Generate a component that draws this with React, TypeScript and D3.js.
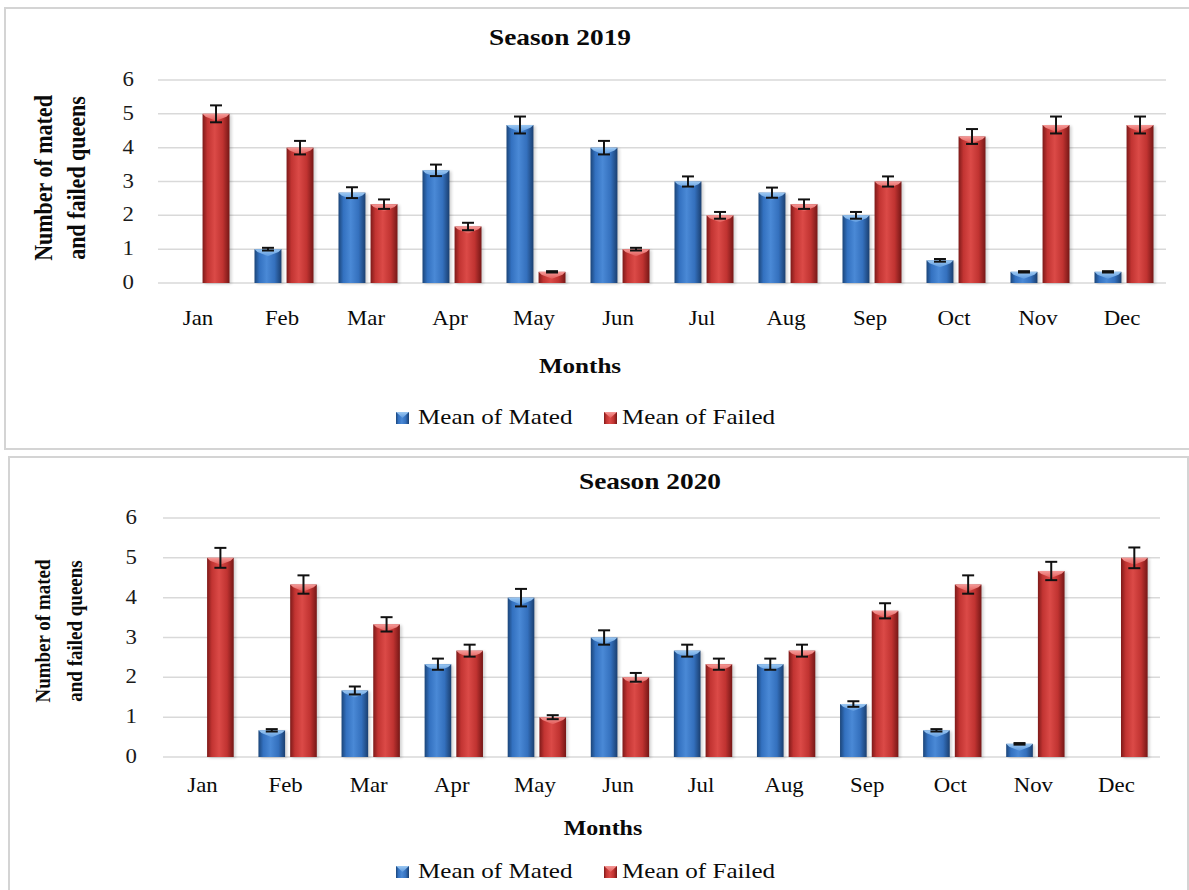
import React from 'react';
import * as d3 from 'd3';

// Monthly means of mated and failed queens, with their error margins
const MONTHS = ['Jan', 'Feb', 'Mar', 'Apr', 'May', 'Jun', 'Jul', 'Aug', 'Sep', 'Oct', 'Nov', 'Dec'];
const SERIES = ['Mean of Mated', 'Mean of Failed'];
const Y_TICKS = [0, 1, 2, 3, 4, 5, 6];

const MATED_2019 = [0, 1, 2.67, 3.33, 4.67, 4, 3, 2.67, 2, 0.67, 0.33, 0.33];
const MATED_ERR_2019 = [0, 0.04, 0.16, 0.17, 0.25, 0.2, 0.15, 0.15, 0.1, 0.04, 0.02, 0.02];
const FAILED_2019 = [5, 4, 2.33, 1.67, 0.33, 1, 2, 2.33, 3, 4.33, 4.67, 4.67];
const FAILED_ERR_2019 = [0.25, 0.2, 0.14, 0.11, 0.02, 0.04, 0.1, 0.14, 0.15, 0.22, 0.25, 0.25];

const MATED_2020 = [0, 0.67, 1.67, 2.33, 4, 3, 2.67, 2.33, 1.33, 0.67, 0.33, 0];
const MATED_ERR_2020 = [0, 0.03, 0.1, 0.14, 0.22, 0.18, 0.15, 0.14, 0.07, 0.03, 0.02, 0];
const FAILED_2020 = [5, 4.33, 3.33, 2.67, 1, 2, 2.33, 2.67, 3.67, 4.33, 4.67, 5];
const FAILED_ERR_2020 = [0.25, 0.23, 0.18, 0.15, 0.05, 0.11, 0.14, 0.15, 0.19, 0.23, 0.23, 0.26];

const SERIF = '"Liberation Serif", "Times New Roman", serif';
const SX = 1.14; // horizontal widening applied to all lettering

type Layout = {
  box: { x: number; y: number; w: number; h: number };
  plot: { left: number; right: number; top: number; bottom: number };
  title: { x: number; y: number; size: number };
  tickX: number;
  tickSize: number;
  xLabelY: number;
  xLabelSize: number;
  xTitle: { x: number; y: number; size: number };
  legend: { y: number; size: number };
  yTitle: { x1: number; x2: number; cy: number; size: number };
};

const TOP_LAYOUT: Layout = {
  box: { x: 5, y: 8, w: 1200, h: 441 },
  plot: { left: 158, right: 1166, top: 80, bottom: 283 },
  title: { x: 560, y: 45, size: 24 },
  tickX: 134,
  tickSize: 20,
  xLabelY: 325,
  xLabelSize: 20,
  xTitle: { x: 580, y: 373, size: 22 },
  legend: { y: 424, size: 22 },
  yTitle: { x1: 43, x2: 76, cy: 178, size: 22 },
};

const BOTTOM_LAYOUT: Layout = {
  box: { x: 9, y: 457, w: 1179, h: 450 },
  plot: { left: 163, right: 1160, top: 518, bottom: 757 },
  title: { x: 650, y: 489, size: 24 },
  tickX: 137,
  tickSize: 20,
  xLabelY: 792,
  xLabelSize: 20,
  xTitle: { x: 603, y: 835, size: 21 },
  legend: { y: 878, size: 22 },
  yTitle: { x1: 43, x2: 75, cy: 631, size: 19 },
};

function STextH({ x, y, size, bold, anchor = 'middle', fill = '#0a0a0a', children }: any) {
  return (
    <text
      transform={`translate(${x},${y}) scale(${SX},1)`}
      textAnchor={anchor}
      fontFamily={SERIF}
      fontSize={size}
      fontWeight={bold ? 'bold' : 'normal'}
      fill={fill}
    >
      {children}
    </text>
  );
}

function Bars({ values, errs, key0, x, inner, y, color }: any) {
  return (
    <g>
      {values.map((v: number, i: number) => {
        if (v <= 0) return null;
        const bx = (x(MONTHS[i]) as number) + (inner(key0) as number);
        const bw = inner.bandwidth();
        const by = y(v);
        const bh = y(0) - by;
        const cap = Math.min(7, bh);
        const e = errs[i];
        const cx = bx + bw / 2;
        return (
          <g key={i}>
            <rect x={bx + 2} y={by + 1} width={bw} height={bh} fill="#000" opacity={0.18} filter="url(#barShadow)" />
            <rect x={bx} y={by} width={bw} height={bh} fill={`url(#grad-${color})`} />
            <polygon
              points={`${bx},${by} ${bx + bw},${by} ${bx + bw - 3},${by + cap * 0.4} ${cx},${by + cap} ${bx + 3},${by + cap * 0.4}`}
              fill={`url(#cap-${color})`}
            />
            {e > 0 && (
              <g stroke="#111" strokeWidth={2}>
                <line x1={cx} x2={cx} y1={y(v + e)} y2={y(v - e)} />
                <line x1={cx - 6} x2={cx + 6} y1={y(v + e)} y2={y(v + e)} />
                <line x1={cx - 6} x2={cx + 6} y1={y(v - e)} y2={y(v - e)} />
              </g>
            )}
          </g>
        );
      })}
    </g>
  );
}

function Panel({ title, mated, matedErr, failed, failedErr, L }: any) {
  const lay = L as Layout;
  const x = d3.scaleBand<string>().domain(MONTHS).range([lay.plot.left, lay.plot.right]);
  const inner = d3
    .scaleBand<string>()
    .domain(['mated', 'failed'])
    .range([0, x.bandwidth()])
    .paddingInner(0.16)
    .paddingOuter(0.39);
  const y = d3.scaleLinear().domain([0, 6]).range([lay.plot.bottom, lay.plot.top]);

  return (
    <g>
      <rect
        x={lay.box.x}
        y={lay.box.y}
        width={lay.box.w}
        height={lay.box.h}
        fill="#fff"
        stroke="#d4d4d4"
        strokeWidth={2}
      />
      <STextH x={lay.title.x} y={lay.title.y} size={lay.title.size} bold>
        {title}
      </STextH>

      {Y_TICKS.map((t) => (
        <g key={t}>
          <line x1={lay.plot.left} x2={lay.plot.right} y1={y(t)} y2={y(t)} stroke="#d9d9d9" strokeWidth={1.5} />
          <STextH x={lay.tickX} y={y(t) + 6} size={lay.tickSize} anchor="end" fill="#1a1a1a">
            {t}
          </STextH>
        </g>
      ))}

      <Bars values={mated} errs={matedErr} key0="mated" x={x} inner={inner} y={y} color="blue" />
      <Bars values={failed} errs={failedErr} key0="failed" x={x} inner={inner} y={y} color="red" />

      {MONTHS.map((m) => (
        <STextH key={m} x={(x(m) as number) + x.bandwidth() / 2 - 2} y={lay.xLabelY} size={lay.xLabelSize}>
          {m}
        </STextH>
      ))}

      <STextH x={lay.xTitle.x} y={lay.xTitle.y} size={lay.xTitle.size} bold>
        Months
      </STextH>

      {[
        { t: 'Number of mated', cx: lay.yTitle.x1 },
        { t: 'and failed queens', cx: lay.yTitle.x2 },
      ].map((ln) => (
        <text
          key={ln.t}
          transform={`translate(${ln.cx},${lay.yTitle.cy}) rotate(-90) scale(1,${SX})`}
          textAnchor="middle"
          dominantBaseline="central"
          fontFamily={SERIF}
          fontSize={lay.yTitle.size}
          fontWeight="bold"
          fill="#0a0a0a"
        >
          {ln.t}
        </text>
      ))}

      {/* legend */}
      <g>
        <rect x={396} y={lay.legend.y - 12} width={13} height={12} fill="url(#grad-blue)" />
        <polygon
          points={`396,${lay.legend.y - 12} 409,${lay.legend.y - 12} 402.5,${lay.legend.y - 6}`}
          fill="url(#cap-blue)"
        />
        <STextH x={418} y={lay.legend.y} size={lay.legend.size} anchor="start">
          {SERIES[0]}
        </STextH>
        <rect x={604} y={lay.legend.y - 12} width={13} height={12} fill="url(#grad-red)" />
        <polygon
          points={`604,${lay.legend.y - 12} 617,${lay.legend.y - 12} 610.5,${lay.legend.y - 6}`}
          fill="url(#cap-red)"
        />
        <STextH x={622} y={lay.legend.y} size={lay.legend.size} anchor="start">
          {SERIES[1]}
        </STextH>
      </g>
    </g>
  );
}

export default function App() {
  return (
    <svg
      width={1189}
      height={890}
      viewBox="0 0 1189 890"
      style={{ position: 'absolute', left: 0, top: 0, background: '#fff' }}
    >
      <defs>
        <linearGradient id="grad-blue" x1="0" x2="1" y1="0" y2="0">
          <stop offset="0%" stopColor="#1b4579" />
          <stop offset="18%" stopColor="#3371c0" />
          <stop offset="45%" stopColor="#4a89d6" />
          <stop offset="75%" stopColor="#3470bd" />
          <stop offset="100%" stopColor="#1a3f70" />
        </linearGradient>
        <linearGradient id="grad-red" x1="0" x2="1" y1="0" y2="0">
          <stop offset="0%" stopColor="#7e1a19" />
          <stop offset="18%" stopColor="#c23432" />
          <stop offset="45%" stopColor="#db4a47" />
          <stop offset="75%" stopColor="#c03331" />
          <stop offset="100%" stopColor="#761716" />
        </linearGradient>
        <linearGradient id="cap-blue" x1="0" x2="0" y1="0" y2="1">
          <stop offset="0%" stopColor="#9cc8f2" />
          <stop offset="100%" stopColor="#5b98de" />
        </linearGradient>
        <linearGradient id="cap-red" x1="0" x2="0" y1="0" y2="1">
          <stop offset="0%" stopColor="#f59a98" />
          <stop offset="100%" stopColor="#e25b58" />
        </linearGradient>
        <filter id="barShadow" x="-20%" y="-5%" width="140%" height="110%">
          <feGaussianBlur stdDeviation="1.5" />
        </filter>
      </defs>
      <rect x={0} y={0} width={1189} height={890} fill="#fff" />
      <Panel
        title="Season 2019"
        mated={MATED_2019}
        matedErr={MATED_ERR_2019}
        failed={FAILED_2019}
        failedErr={FAILED_ERR_2019}
        L={TOP_LAYOUT}
      />
      <Panel
        title="Season 2020"
        mated={MATED_2020}
        matedErr={MATED_ERR_2020}
        failed={FAILED_2020}
        failedErr={FAILED_ERR_2020}
        L={BOTTOM_LAYOUT}
      />
    </svg>
  );
}
